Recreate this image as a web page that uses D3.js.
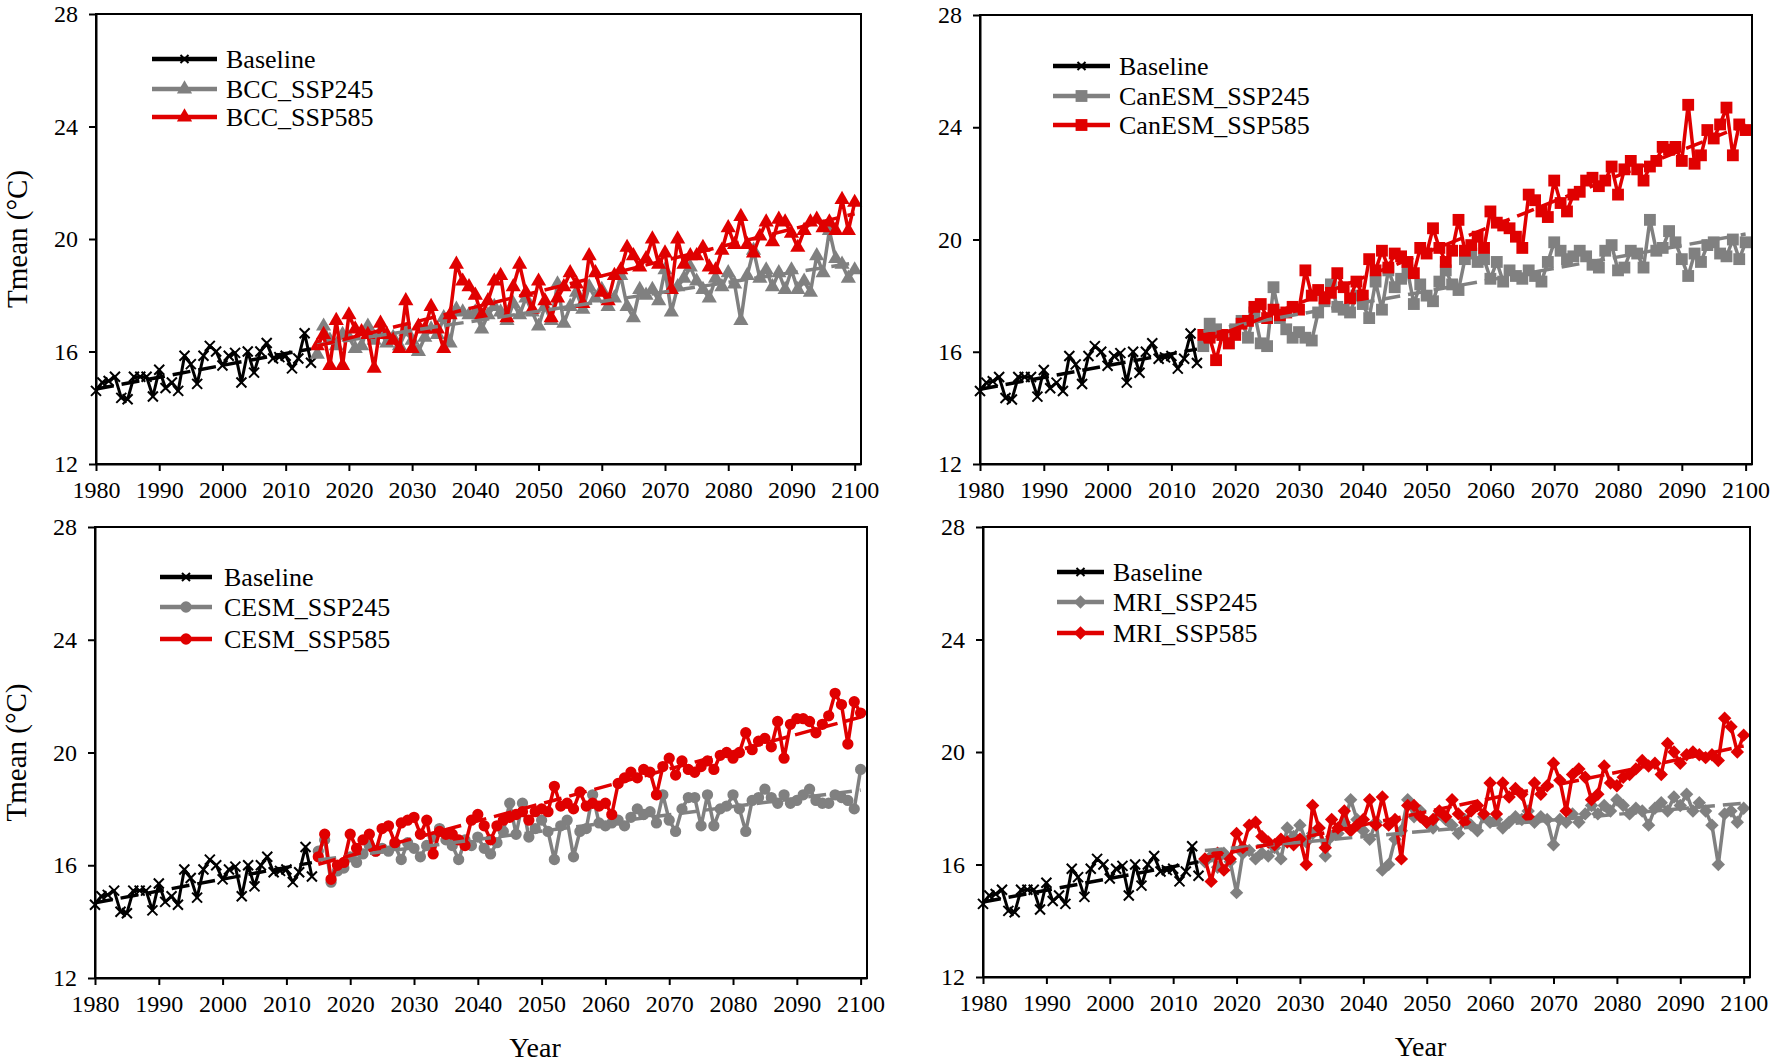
<!DOCTYPE html>
<html>
<head>
<meta charset="utf-8">
<script src="https://cdn.jsdelivr.net/npm/d3@7"></script>
<style>
  body { margin: 0; background: #fff; }
  svg { display: block; font-family: "Liberation Serif", "Times New Roman", serif; }
</style>
</head>
<body>
<div id="chart"></div>
<script>
// years
const baselineYears = d3.range(1980, 2015);
const futureYears = d3.range(2015, 2101);
const xTicks = [1980, 1990, 2000, 2010, 2020, 2030, 2040, 2050, 2060, 2070, 2080, 2090, 2100];
const yTicks = [12, 16, 20, 24, 28];

// observed Tmean 1980-2014
const baseline = [
  14.6, 14.9, 14.95, 15.1, 14.35, 14.3, 15.1, 15.1, 15.1, 14.4,
  15.35, 14.7, 14.9, 14.6, 15.85, 15.55, 14.85, 15.85, 16.2, 16.0,
  15.5, 15.85, 15.95, 14.9, 16.0, 15.25, 16.0, 16.3, 15.75, 15.8,
  15.85, 15.4, 15.75, 16.65, 15.6
];

// projections 2015-2100
const bccSsp245 = [
  15.9, 16.9, 16.4, 16.2, 16.6, 16.5, 16.1, 16.2, 16.9, 16.4,
  16.7, 16.3, 16.5, 16.2, 16.7, 16.4, 16.0, 16.5, 16.8, 16.6,
  17.2, 16.3, 17.5, 17.4, 17.3, 17.4, 16.8, 17.3, 17.6, 17.4,
  17.1, 17.7, 17.3, 17.9, 17.4, 16.9, 17.6, 17.1, 18.4, 17.0,
  17.6, 18.1, 17.5, 18.3, 17.9, 18.2, 17.6, 17.9, 18.7, 17.6,
  17.2, 18.2, 18.0, 18.2, 17.8, 18.9, 17.4, 18.3, 18.6, 19.0,
  18.5, 18.2, 17.9, 18.6, 18.3, 18.8, 18.4, 17.1, 18.7, 19.6,
  18.6, 18.9, 18.3, 18.8, 18.2, 18.9, 18.2, 18.5, 18.1, 19.4,
  18.8, 20.3, 19.3, 19.1, 18.6, 18.9
];
const bccSsp585 = [
  16.2, 16.6, 15.5, 17.1, 15.5, 17.3, 16.8, 16.7, 16.6, 15.4,
  17.0, 16.6, 16.4, 16.1, 17.8, 16.1, 16.9, 16.8, 17.6, 16.8,
  16.1, 17.3, 19.1, 18.5, 18.3, 18.0, 17.3, 17.8, 18.5, 18.7,
  17.2, 18.3, 19.1, 18.1, 17.5, 18.5, 17.8, 17.2, 17.9, 18.3,
  18.8, 18.4, 17.7, 19.4, 18.8, 18.1, 17.8, 18.7, 18.9, 19.7,
  19.4, 19.0, 19.3, 20.0, 19.1, 19.5, 18.2, 20.0, 19.1, 19.4,
  19.4, 19.7, 19.0, 18.9, 19.6, 20.4, 19.8, 20.8, 19.8, 19.5,
  20.1, 20.6, 19.9, 20.7, 20.6, 20.2, 19.7, 20.3, 20.6, 20.7,
  20.4, 20.6, 20.3, 21.4, 20.3, 21.3
];
const canesmSsp245 = [
  16.2, 17.0, 16.8, 16.6, 16.3, 16.8, 17.1, 16.5, 17.4, 16.3,
  16.2, 18.3, 17.2, 16.8, 16.5, 16.7, 16.5, 16.4, 17.4, 17.8,
  18.4, 17.6, 17.5, 17.4, 18.0, 17.7, 17.2, 18.5, 17.5, 18.9,
  18.3, 18.6, 18.9, 17.7, 18.4, 18.0, 17.8, 18.5, 18.9, 18.4,
  18.2, 19.3, 19.5, 19.2, 19.3, 18.6, 19.2, 18.5, 18.9, 18.7,
  18.6, 18.9, 18.7, 18.5, 19.2, 19.9, 19.6, 19.3, 19.4, 19.6,
  19.4, 19.1, 19.0, 19.6, 19.8, 18.9, 19.0, 19.6, 19.5, 19.0,
  20.7, 19.6, 19.7, 20.3, 19.9, 19.3, 18.7, 19.5, 19.2, 19.8,
  19.9, 19.5, 19.4, 20.0, 19.3, 19.9
];
const canesmSsp585 = [
  16.6, 16.5, 15.7, 16.6, 16.3, 16.6, 17.0, 17.1, 17.6, 17.7,
  17.2, 17.5, 17.3, 17.4, 17.6, 17.5, 18.9, 18.0, 18.2, 17.9,
  18.1, 18.8, 18.3, 17.9, 18.5, 18.0, 19.3, 18.9, 19.6, 19.0,
  19.5, 19.4, 19.2, 18.8, 19.7, 19.5, 20.4, 19.7, 19.2, 19.6,
  20.7, 19.6, 19.8, 20.1, 19.7, 21.0, 20.6, 20.5, 20.4, 20.1,
  19.7, 21.6, 21.4, 21.0, 20.8, 22.1, 21.3, 21.0, 21.6, 21.7,
  22.1, 22.2, 21.9, 22.1, 22.6, 21.6, 22.5, 22.8, 22.5, 22.1,
  22.6, 22.8, 23.3, 23.2, 23.3, 22.8, 24.8, 22.7, 23.0, 23.9,
  23.6, 24.1, 24.7, 23.0, 24.1, 23.9
];
const cesmSsp245 = [
  16.5, 16.9, 15.4, 15.8, 15.9, 16.3, 16.1, 16.4, 16.7, 16.5,
  16.6, 16.5, 16.7, 16.2, 16.8, 16.6, 16.3, 16.7, 17.0, 17.3,
  16.9, 16.7, 16.2, 16.9, 16.7, 17.0, 16.6, 16.4, 16.8, 17.2,
  18.2, 17.1, 18.2, 17.0, 17.3, 17.6, 17.2, 16.2, 17.4, 17.6,
  16.3, 17.2, 17.3, 18.5, 17.5, 17.4, 17.5, 17.6, 17.4, 17.7,
  18.0, 17.8, 17.9, 17.5, 18.5, 17.6, 17.2, 18.0, 18.4, 18.4,
  17.4, 18.5, 17.4, 18.0, 18.1, 18.5, 18.0, 17.2, 18.3, 18.4,
  18.7, 18.4, 18.2, 18.5, 18.2, 18.3, 18.5, 18.7, 18.3, 18.2,
  18.2, 18.5, 18.4, 18.3, 18.0, 19.4
];
const cesmSsp585 = [
  16.3, 17.1, 15.5, 16.0, 16.1, 17.1, 16.6, 16.9, 17.1, 16.5,
  17.3, 17.4, 16.8, 17.5, 17.6, 17.7, 17.1, 17.6, 16.4, 17.2,
  17.1, 17.1, 16.9, 16.7, 17.6, 17.8, 17.4, 16.9, 17.4, 17.6,
  17.7, 17.8, 17.9, 17.6, 17.9, 18.0, 17.9, 18.8, 18.1, 18.2,
  18.0, 18.6, 18.1, 18.2, 18.1, 18.2, 17.8, 18.9, 19.1, 19.3,
  19.1, 19.4, 19.3, 18.5, 19.5, 19.8, 19.2, 19.7, 19.4, 19.3,
  19.5, 19.7, 19.4, 19.9, 20.0, 19.8, 20.0, 20.7, 20.1, 20.4,
  20.5, 20.2, 21.1, 19.8, 21.0, 21.2, 21.2, 21.1, 20.7, 21.0,
  21.3, 22.1, 21.7, 20.3, 21.8, 21.4
];
const mriSsp245 = [
  16.1, 16.3, 15.9, 16.4, 16.1, 15.0, 16.4, 16.5, 16.2, 16.4,
  16.3, 16.6, 16.2, 17.3, 17.0, 17.4, 16.8, 17.1, 17.3, 16.3,
  17.0, 17.1, 17.5, 18.3, 17.6, 17.2, 16.9, 17.5, 15.8, 16.0,
  16.9, 17.2, 18.3, 17.7, 17.9, 17.5, 17.3, 17.8, 17.6, 17.4,
  17.1, 17.6, 17.4, 17.2, 17.7, 17.5, 17.6, 17.3, 17.5, 17.7,
  17.6, 17.9, 17.5, 17.7, 17.6, 16.7, 17.6, 17.5, 17.8, 17.5,
  17.8, 18.1, 17.8, 18.1, 17.9, 18.3, 18.1, 17.8, 18.0, 17.9,
  17.4, 18.0, 18.2, 17.9, 18.4, 18.1, 18.5, 17.9, 18.2, 17.9,
  17.4, 16.0, 17.8, 17.9, 17.5, 18.0
];
const mriSsp585 = [
  16.2, 15.4, 16.4, 15.8, 16.2, 17.1, 16.6, 17.4, 17.5, 17.0,
  16.8, 16.7, 16.9, 16.8, 16.7, 16.9, 16.0, 18.1, 17.3, 16.6,
  17.6, 17.3, 17.9, 17.2, 17.4, 17.6, 18.3, 17.4, 18.4, 17.4,
  17.6, 16.2, 18.1, 18.1, 17.7, 17.5, 17.6, 17.9, 17.7, 18.3,
  17.8, 17.5, 17.9, 18.1, 17.8, 18.9, 17.8, 18.9, 18.4, 18.7,
  18.5, 17.7, 18.9, 18.5, 18.8, 19.6, 19.0, 17.9, 19.2, 19.4,
  19.1, 18.3, 18.5, 19.5, 18.9, 18.8, 19.1, 19.2, 19.4, 19.7,
  19.5, 19.6, 19.2, 20.3, 20.0, 19.6, 19.9, 20.0, 19.9, 19.8,
  19.9, 19.7, 21.2, 20.9, 20.0, 20.6
];

const width = 1772;
const height = 1063;
const red = "#e00000";
const grey = "#808080";
const font = '"Liberation Serif", "Times New Roman", serif';

const svg = d3.select("#chart")
  .append("svg")
  .attr("width", width)
  .attr("height", height);

svg.append("rect").attr("width", width).attr("height", height).attr("fill", "#fff");

// simple least squares fit for the dashed trend lines
const fitLine = (xs, ys) => {
  const mx = d3.mean(xs), my = d3.mean(ys);
  let num = 0, den = 0;
  xs.forEach((xv, i) => { num += (xv - mx) * (ys[i] - my); den += (xv - mx) ** 2; });
  const b = num / den;
  return xv => my + b * (xv - mx);
};

// marker path builders
const crossPath = s => `M${-s},${-s}L${s},${s}M${-s},${s}L${s},${-s}`;
const shapes = {
  triangle: { path: d3.symbol(d3.symbolTriangle, 100)(), rotate: 0 },
  square: { path: d3.symbol(d3.symbolSquare, 140)(), rotate: 0 },
  circle: { path: d3.symbol(d3.symbolCircle, 100)(), rotate: 0 },
  diamond: { path: d3.symbol(d3.symbolSquare, 90)(), rotate: 45 }
};

const drawMarkers = (g, pts, x, y, shape, color) => {
  if (shape === "cross") {
    g.selectAll(null)
      .data(pts)
      .join("path")
        .attr("d", crossPath(5))
        .attr("transform", d => `translate(${x(d[0])},${y(d[1])})`)
        .attr("stroke", color)
        .attr("stroke-width", 2)
        .attr("fill", "none");
  } else {
    g.selectAll(null)
      .data(pts)
      .join("path")
        .attr("d", shapes[shape].path)
        .attr("transform", d => `translate(${x(d[0])},${y(d[1])}) rotate(${shapes[shape].rotate})`)
        .attr("fill", color);
  }
};

const drawPanel = (cfg) => {
  const x = d3.scaleLinear().domain([1980, 2101]).range([cfg.left, cfg.right]);
  const y = d3.scaleLinear().domain([12, 28]).range([cfg.bottom, cfg.top]);
  const g = svg.append("g");

  const series = [
    { name: "Baseline", years: baselineYears, values: baseline, color: "#000", shape: "cross", width: 3 },
    { name: cfg.model + "_SSP245", years: futureYears, values: cfg.ssp245, color: grey, shape: cfg.shape, width: 3.5 },
    { name: cfg.model + "_SSP585", years: futureYears, values: cfg.ssp585, color: red, shape: cfg.shape, width: 3.5 }
  ];

  const line = d3.line().x(d => x(d[0])).y(d => y(d[1]));

  // data lines + markers
  series.forEach(s => {
    const pts = s.years.map((yr, i) => [yr, s.values[i]]);
    g.append("path")
      .datum(pts)
      .attr("d", line)
      .attr("fill", "none")
      .attr("stroke", s.color)
      .attr("stroke-width", s.width)
      .attr("stroke-linejoin", "round");
    drawMarkers(g, pts, x, y, s.shape, s.color);
  });

  // dashed trend lines
  series.forEach(s => {
    const f = fitLine(s.years, s.values);
    const ends = [s.years[0], s.years[s.years.length - 1]].map(yr => [yr, f(yr)]);
    g.append("path")
      .datum(ends)
      .attr("d", line)
      .attr("fill", "none")
      .attr("stroke", s.color)
      .attr("stroke-width", 3.5)
      .attr("stroke-dasharray", "18,8");
  });

  // frame
  g.append("rect")
    .attr("x", cfg.left)
    .attr("y", cfg.top)
    .attr("width", cfg.right - cfg.left)
    .attr("height", cfg.bottom - cfg.top)
    .attr("fill", "none")
    .attr("stroke", "#000")
    .attr("stroke-width", 2);

  // axes
  const bottomAxis = d3.axisBottom(x).tickValues(xTicks).tickFormat(d3.format("d")).tickSize(7).tickSizeOuter(0).tickPadding(10);
  const leftAxis = d3.axisLeft(y).tickValues(yTicks).tickSize(7).tickSizeOuter(0).tickPadding(11);

  const xa = g.append("g").attr("transform", `translate(0,${cfg.bottom})`).call(bottomAxis);
  const ya = g.append("g").attr("transform", `translate(${cfg.left},0)`).call(leftAxis);
  [xa, ya].forEach(a => {
    a.select(".domain").attr("stroke-width", 2);
    a.selectAll(".tick line").attr("stroke-width", 2);
    a.selectAll(".tick text").attr("font-family", font).attr("font-size", 24).attr("fill", "#000");
  });

  // legend
  series.forEach((s, i) => {
    const ly = cfg.legend.rows[i];
    const lg = g.append("g");
    lg.append("line")
      .attr("x1", cfg.legend.x1).attr("x2", cfg.legend.x2)
      .attr("y1", ly).attr("y2", ly)
      .attr("stroke", s.color)
      .attr("stroke-width", 4.5);
    const mx = (cfg.legend.x1 + cfg.legend.x2) / 2;
    if (s.shape === "cross") {
      lg.append("path").attr("d", crossPath(4)).attr("transform", `translate(${mx},${ly})`)
        .attr("stroke", s.color).attr("stroke-width", 2);
    } else {
      lg.append("path").attr("d", shapes[s.shape].path)
        .attr("transform", `translate(${mx},${ly}) rotate(${shapes[s.shape].rotate})`)
        .attr("fill", s.color);
    }
    lg.append("text")
      .attr("x", cfg.legend.tx)
      .attr("y", ly)
      .attr("dy", "0.35em")
      .attr("font-family", font)
      .attr("font-size", 26)
      .text(s.name);
  });

  if (cfg.yTitle) {
    g.append("text")
      .attr("transform", `translate(${cfg.left - 79},${(cfg.top + cfg.bottom) / 2}) rotate(-90)`)
      .attr("text-anchor", "middle")
      .attr("dy", "0.35em")
      .attr("font-family", font)
      .attr("font-size", 29)
      .text("Tmean (°C)");
  }
  if (cfg.xTitle) {
    g.append("text")
      .attr("x", (cfg.left + cfg.right) / 2 + 54)
      .attr("y", cfg.bottom + 69)
      .attr("dy", "0.35em")
      .attr("text-anchor", "middle")
      .attr("font-family", font)
      .attr("font-size", 28)
      .text("Year");
  }
};

drawPanel({
  model: "BCC", shape: "triangle", ssp245: bccSsp245, ssp585: bccSsp585,
  left: 96, right: 861, top: 14, bottom: 464, yTitle: true, xTitle: false,
  legend: { x1: 152, x2: 217, tx: 226, rows: [59, 89, 117] }
});
drawPanel({
  model: "CanESM", shape: "square", ssp245: canesmSsp245, ssp585: canesmSsp585,
  left: 980, right: 1752, top: 15, bottom: 464, yTitle: false, xTitle: false,
  legend: { x1: 1053, x2: 1110, tx: 1119, rows: [66, 96, 125] }
});
drawPanel({
  model: "CESM", shape: "circle", ssp245: cesmSsp245, ssp585: cesmSsp585,
  left: 95, right: 867, top: 527, bottom: 978, yTitle: true, xTitle: true,
  legend: { x1: 160, x2: 212, tx: 224, rows: [577, 607, 639] }
});
drawPanel({
  model: "MRI", shape: "diamond", ssp245: mriSsp245, ssp585: mriSsp585,
  left: 983, right: 1750, top: 527, bottom: 977, yTitle: false, xTitle: true,
  legend: { x1: 1057, x2: 1104, tx: 1113, rows: [572, 602, 633] }
});
</script>
</body>
</html>
